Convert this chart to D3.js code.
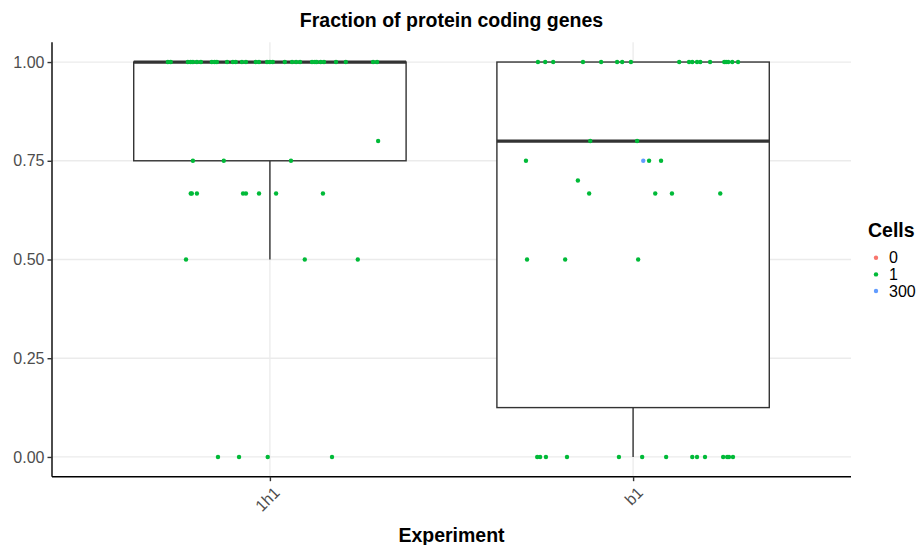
<!DOCTYPE html>
<html><head><meta charset="utf-8">
<script src="https://cdn.jsdelivr.net/npm/d3@7"></script>
<style>body{margin:0;background:#fff}svg{font-family:"Liberation Sans",Arial,sans-serif}</style>
</head><body><svg id="c" width="921" height="545"></svg>
<script>
const experiments = ["1h1", "b1"];
const cellLevels = ["0", "1", "300"];
const cellColors = ["#F8766D", "#00BA38", "#619CFF"];
const yTicks = [0, 0.25, 0.5, 0.75, 1.0];
// box statistics [lower whisker, Q1, median, Q3, upper whisker]
const box1h1 = [0.5, 0.75, 1.0, 1.0, 1.0];
const boxB1 = [0.0, 0.125, 0.8, 1.0, 1.0];
// points: value, jitter offset (category units), cells
const pts1h1Value = [1,1,1,1,1,1,1,1,1,1,1,1,1,1,1,1,1,1,1,1,1,1,1,1,1,1,1,1,1,1,1,1,1,
  0.8, 0.75,0.75,0.75, 0.667,0.667,0.667,0.667,0.667,0.667,0.667,0.667, 0.5,0.5,0.5, 0,0,0,0];
const pts1h1Jitter = [-0.281,-0.273,-0.226,-0.218,-0.212,-0.201,-0.190,-0.160,-0.152,-0.146,-0.118,-0.102,-0.094,-0.077,-0.066,-0.039,-0.030,-0.008,0.000,0.008,0.041,0.061,0.072,0.083,0.116,0.124,0.129,0.140,0.149,0.182,0.209,0.284,0.295,
  0.298, -0.212,-0.127,0.058, -0.218,-0.215,-0.201,-0.074,-0.066,-0.030,0.017,0.146, -0.231,0.096,0.242, -0.143,-0.085,-0.006,0.171];
const ptsB1Value = [1,1,1,1,1,1,1,1,1,1,1,1,1,1,1,1,1,1,1,
  0.8,0.8, 0.75,0.75,0.75,0.75, 0.7, 0.667,0.667,0.667,0.667, 0.5,0.5,0.5,
  0,0,0,0,0,0,0,0,0,0,0,0,0,0];
const ptsB1Jitter = [-0.262,-0.242,-0.220,-0.138,-0.088,-0.044,-0.030,-0.006,0.127,0.154,0.163,0.176,0.185,0.212,0.251,0.256,0.262,0.273,0.289,
  -0.118,0.011, -0.295,0.044,0.077,0.028, -0.152, -0.121,0.061,0.107,0.240, -0.292,-0.187,0.014,
  -0.264,-0.256,-0.240,-0.182,-0.039,0.025,0.091,0.163,0.176,0.198,0.248,0.259,0.264,0.275];
const ptsB1Cells = ptsB1Value.map((v,i)=> i===24 ? "300" : "1");

const svg = d3.select("#c");
const L = 52, R = 851, T = 42.3, B = 476.7;
const x = d3.scaleLinear().domain([0.4, 2.6]).range([L, R]);
const y = d3.scaleLinear().domain([-0.05, 1.05]).range([B, T]);
const color = d3.scaleOrdinal().domain(cellLevels).range(cellColors);
const FT = 16, FTitle = 19.5;

// grid
const g = svg.append("g");
g.selectAll("line.h").data(yTicks).join("line")
  .attr("x1", L).attr("x2", R).attr("y1", d=>y(d)).attr("y2", d=>y(d))
  .attr("stroke", "#EBEBEB").attr("stroke-width", 1.3);
g.selectAll("line.v").data(experiments).join("line")
  .attr("x1", (d,i)=>x(i+1)).attr("x2", (d,i)=>x(i+1)).attr("y1", T).attr("y2", B)
  .attr("stroke", "#EBEBEB").attr("stroke-width", 1.3);

// boxes
const boxes = [box1h1, boxB1];
const bw = 0.375;
boxes.forEach((b, i) => {
  const c = i + 1;
  const bg = svg.append("g").attr("stroke", "#333333").attr("fill", "#fff");
  bg.append("line").attr("x1", x(c)).attr("x2", x(c)).attr("y1", y(b[0])).attr("y2", y(b[1])).attr("stroke-width", 1.4);
  bg.append("line").attr("x1", x(c)).attr("x2", x(c)).attr("y1", y(b[3])).attr("y2", y(b[4])).attr("stroke-width", 1.4);
  bg.append("rect").attr("x", x(c - bw)).attr("width", x(c + bw) - x(c - bw))
    .attr("y", y(b[3])).attr("height", y(b[1]) - y(b[3])).attr("stroke-width", 1.4);
  bg.append("line").attr("x1", x(c - bw)).attr("x2", x(c + bw)).attr("y1", y(b[2])).attr("y2", y(b[2])).attr("stroke-width", 3.3);
});

// points
const pts = [];
pts1h1Value.forEach((v,i)=>pts.push({cat:1, v, j:pts1h1Jitter[i], c:"1"}));
ptsB1Value.forEach((v,i)=>pts.push({cat:2, v, j:ptsB1Jitter[i], c:ptsB1Cells[i]}));
svg.append("g").selectAll("circle").data(pts).join("circle")
  .attr("cx", d=>x(d.cat + d.j)).attr("cy", d=>y(d.v)).attr("r", 2.2)
  .attr("fill", d=>color(d.c));

// axes
const ax = svg.append("g").attr("stroke", "#000");
ax.append("line").attr("x1", L).attr("x2", L).attr("y1", T).attr("y2", B).attr("stroke-width", 1.4);
ax.append("line").attr("x1", L).attr("x2", R).attr("y1", B).attr("y2", B).attr("stroke-width", 1.4);
const yAxis = svg.append("g").attr("transform", `translate(${L},0)`)
  .call(d3.axisLeft(y).tickValues(yTicks).tickFormat(d3.format(".2f")).tickSize(4.5).tickPadding(3));
yAxis.select(".domain").remove();
yAxis.attr("font-size", null).attr("font-family", null);
yAxis.selectAll("line").attr("stroke", "#333").attr("stroke-width", 1.4);
yAxis.selectAll("text").attr("fill", "#4D4D4D").style("font-size", FT + "px");

const xs = d3.scalePoint().domain(experiments).range([x(1), x(2)]);
const xAxis = svg.append("g").attr("transform", `translate(0,${B})`)
  .call(d3.axisBottom(xs).tickSize(4.5).tickFormat(""));
xAxis.select(".domain").remove();
xAxis.selectAll("line").attr("stroke", "#333").attr("stroke-width", 1.4);
svg.append("g").selectAll("text").data(experiments).join("text")
  .attr("transform", d=>`translate(${xs(d)+3},${B+9}) rotate(-45)`)
  .attr("text-anchor", "end").attr("dy", "0.7em")
  .attr("fill", "#4D4D4D").style("font-size", FT + "px").text(d=>d);

// titles
svg.append("text").attr("x", (L+R)/2).attr("y", 27).attr("text-anchor", "middle")
  .attr("font-weight", "bold").style("font-size", FTitle + "px").text("Fraction of protein coding genes");
svg.append("text").attr("x", (L+R)/2).attr("y", 542).attr("text-anchor", "middle")
  .attr("font-weight", "bold").style("font-size", FTitle + "px").text("Experiment");

// legend
const lg = svg.append("g");
lg.append("text").attr("x", 868).attr("y", 237).attr("font-weight", "bold").style("font-size", FTitle + "px").text("Cells");
const ly = d3.scaleBand().domain(cellLevels).range([249.4, 299.4]);
lg.selectAll("circle").data(cellLevels).join("circle")
  .attr("cx", 876).attr("cy", d=>ly(d)+ly.bandwidth()/2).attr("r", 2.2).attr("fill", d=>color(d));
lg.selectAll("text.l").data(cellLevels).join("text").attr("class","l")
  .attr("x", 889).attr("y", d=>ly(d)+ly.bandwidth()/2).attr("dy", "0.36em")
  .style("font-size", FT + "px").attr("fill", "#000").text(d=>d);
</script></body></html>
